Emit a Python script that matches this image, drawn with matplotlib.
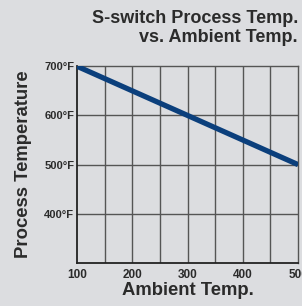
import matplotlib
matplotlib.use("Agg")
import matplotlib.pyplot as plt
import numpy as np

# data
ambient = [100, 500]
process = [700, 500]

x_ticks = [100, 200, 300, 400, 500]
x_tick_labels = ["100", "200", "300", "400", "500"]
y_ticks = [400, 500, 600, 700]
y_tick_labels = ["400°F", "500°F", "600°F", "700°F"]

BG = "#dcdde0"
TEXT = "#2b2b2b"
LINE = "#0b3f7c"

plt.rcParams["font.family"] = ["Liberation Sans", "DejaVu Sans"]

fig = plt.figure(figsize=(3.02, 3.06), dpi=100, facecolor=BG)
ax = fig.add_axes([0.255, 0.1405, 0.732, 0.643])
ax.set_facecolor(BG)

ax.plot(ambient, process, color=LINE, linewidth=3.8, solid_capstyle="butt", zorder=3)

ax.set_xlim(100, 500)
ax.set_ylim(300, 700)

# grid every 50 on x, every 100 on y
for gx in np.arange(150, 500, 50):
    ax.axvline(gx, color="#555555", linewidth=1.0, zorder=1)
for gy in [400, 500, 600]:
    ax.axhline(gy, color="#555555", linewidth=1.0, zorder=1)

ax.set_xticks(x_ticks)
ax.set_xticklabels(x_tick_labels, fontsize=8.5, fontweight="bold", color=TEXT)
ax.set_yticks(y_ticks)
ax.set_yticklabels(y_tick_labels, fontsize=8, fontweight="bold", color=TEXT)
ax.tick_params(length=0)
ax.tick_params(axis="x", pad=4)
ax.tick_params(axis="y", pad=2)

for side in ["left", "bottom"]:
    ax.spines[side].set_color("#222222")
    ax.spines[side].set_linewidth(1.3)
for side in ["top", "right"]:
    ax.spines[side].set_color("#555555")
    ax.spines[side].set_linewidth(1.0)

ax.set_xlabel("Ambient Temp.", fontsize=13.3, fontweight="bold", color=TEXT, labelpad=1)
ax.set_ylabel("Process Temperature", fontsize=13.3, fontweight="bold", color=TEXT)
ax.yaxis.set_label_coords(-77 / 221 + 32 / 221, 0.5)

fig.text(0.987, 0.968, "S-switch Process Temp.\nvs. Ambient Temp.", ha="right", va="top",
         fontsize=13, fontweight="bold", color=TEXT, linespacing=1.15)

fig.savefig("out.png", dpi=100, facecolor=BG)
